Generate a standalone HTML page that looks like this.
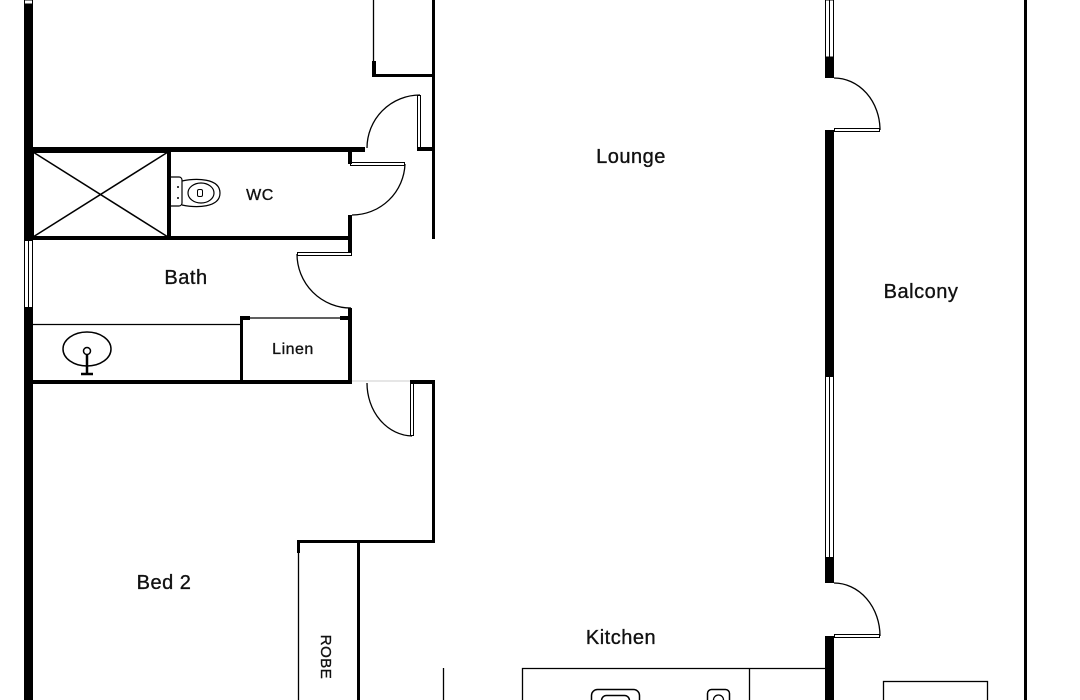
<!DOCTYPE html>
<html><head><meta charset="utf-8"><style>
html,body{margin:0;padding:0;background:#fff;width:1080px;height:700px;overflow:hidden}
svg{display:block}
text{font-family:"Liberation Sans","DejaVu Sans",sans-serif;fill:#111;stroke:#111;stroke-width:0.35;letter-spacing:0.5px}
</style></head><body>
<svg width="1080" height="700" viewBox="0 0 1080 700" xmlns="http://www.w3.org/2000/svg">
<g fill="#000">
<rect x="24" y="4" width="9" height="236"/>
<rect x="24" y="308" width="9" height="392"/>
<rect x="32" y="147" width="333" height="5"/>
<rect x="417" y="147" width="18" height="4"/>
<rect x="168" y="150" width="3" height="89"/>
<rect x="348" y="150" width="4" height="14"/>
<rect x="348" y="215" width="4" height="38"/>
<rect x="32" y="236" width="320" height="4"/>
<rect x="348" y="308" width="4" height="76"/>
<rect x="240" y="317" width="3" height="66"/>
<rect x="240" y="316" width="10" height="4"/>
<rect x="340" y="316" width="10" height="4"/>
<rect x="32" y="380" width="320" height="4"/>
<rect x="410" y="380" width="25" height="4"/>
<rect x="432" y="0" width="3" height="239"/>
<rect x="432" y="380" width="3" height="163"/>
<rect x="372" y="61" width="4" height="16"/>
<rect x="372" y="74" width="62" height="3"/>
<rect x="297" y="540" width="138" height="3"/>
<rect x="297" y="540" width="3" height="13"/>
<rect x="357" y="540" width="3" height="160"/>
<rect x="825" y="57" width="9" height="21"/>
<rect x="825" y="130" width="9" height="246"/>
<rect x="825" y="558" width="9" height="25"/>
<rect x="825" y="636" width="9" height="64"/>
<rect x="1024" y="0" width="3" height="700"/>
</g>
<g fill="none" stroke="#000">
<rect x="24.5" y="240.5" width="8" height="67" stroke-width="1"/>
<line x1="28.5" y1="240" x2="28.5" y2="308" stroke-width="1"/>
<rect x="24.5" y="0" width="8" height="4" stroke-width="1"/>
<rect x="825.5" y="0" width="8" height="57" stroke-width="1"/>
<line x1="829.5" y1="0" x2="829.5" y2="57" stroke-width="1"/>
<rect x="825.5" y="376.5" width="8" height="181" stroke-width="1"/>
<line x1="829.5" y1="376" x2="829.5" y2="558" stroke-width="1"/>
<rect x="33" y="152" width="135" height="85" stroke-width="2"/>
<line x1="33" y1="152" x2="168" y2="237" stroke-width="1.5"/>
<line x1="168" y1="152" x2="33" y2="237" stroke-width="1.5"/>
<line x1="32" y1="324.5" x2="240" y2="324.5" stroke-width="1.3"/>
<line x1="243" y1="318" x2="348" y2="318" stroke-width="1.3"/>
<line x1="373.5" y1="0" x2="373.5" y2="62" stroke-width="1.3"/>
<line x1="298.5" y1="553" x2="298.5" y2="700" stroke-width="1.3"/>
<line x1="443.5" y1="668" x2="443.5" y2="700" stroke-width="1.3"/>
<rect x="417.5" y="95.5" width="3" height="52" stroke-width="1"/>
<path d="M420 95 A53 53 0 0 0 367 148" stroke-width="1.3"/>
<rect x="350.5" y="162.5" width="54" height="3" stroke-width="1"/>
<path d="M405 164 A53 53 0 0 1 352 215" stroke-width="1.3"/>
<rect x="297.5" y="252.5" width="54" height="3" stroke-width="1"/>
<path d="M297 254 A54 54 0 0 0 351 308" stroke-width="1.3"/>
<rect x="410.5" y="382.5" width="3" height="53" stroke-width="1"/>
<path d="M367 383 A46 53 0 0 0 412 436" stroke-width="1.3"/>
<line x1="352" y1="381" x2="410" y2="381" stroke="#ccc" stroke-width="1"/>
<rect x="834.5" y="128.5" width="45" height="3" stroke-width="1"/>
<path d="M834 78 A46 52 0 0 1 880 130" stroke-width="1.3"/>
<rect x="834.5" y="634.5" width="45" height="3" stroke-width="1"/>
<path d="M834 583 A46 53 0 0 1 880 636" stroke-width="1.3"/>
<path d="M171 177 h8 a3 3 0 0 1 3 3 v23 a3 3 0 0 1 -3 3 h-8" stroke-width="1.2"/>
<path d="M182 181 C196 178 220 178 220 193 C220 208 196 208 182 205" stroke-width="1.2"/>
<ellipse cx="201" cy="193" rx="13" ry="10" stroke-width="1.2"/>
<rect x="197.5" y="189.5" width="5" height="7" rx="1.5" stroke-width="1"/>
<ellipse cx="87" cy="349" rx="24" ry="17" stroke-width="1.5"/>
<circle cx="87" cy="351" r="3.5" stroke-width="1.5"/>
<line x1="87" y1="355" x2="87" y2="374" stroke-width="2.5"/>
<line x1="81" y1="374" x2="93" y2="374" stroke-width="2.5"/>
<path d="M522.5 700 V668.5 H825" stroke-width="1.3"/>
<line x1="749.5" y1="668" x2="749.5" y2="700" stroke-width="1.3"/>
<rect x="591.5" y="689.5" width="48" height="20" rx="6" stroke-width="1.5"/>
<rect x="601.5" y="695.5" width="28" height="14" rx="5" stroke-width="1.5"/>
<rect x="707.5" y="689.5" width="22" height="20" rx="4" stroke-width="1.5"/>
<circle cx="718.5" cy="700" r="5" stroke-width="1.3"/>
<rect x="883.5" y="681.5" width="104" height="30" stroke-width="1.3"/>
</g>
<g fill="#000">
<circle cx="178" cy="187" r="1"/><circle cx="178" cy="198" r="1"/>
</g>
<text x="631" y="163" font-size="20" text-anchor="middle">Lounge</text>
<text x="921" y="298" font-size="20" text-anchor="middle">Balcony</text>
<text x="260" y="200" font-size="16" text-anchor="middle">WC</text>
<text x="186" y="284" font-size="20" text-anchor="middle">Bath</text>
<text x="293" y="354" font-size="16" text-anchor="middle">Linen</text>
<text x="164" y="589" font-size="20" text-anchor="middle">Bed 2</text>
<text x="621" y="644" font-size="20" text-anchor="middle">Kitchen</text>
<text x="0" y="0" font-size="15" text-anchor="middle" transform="translate(321 657) rotate(90)">ROBE</text>
</svg>
</body></html>
